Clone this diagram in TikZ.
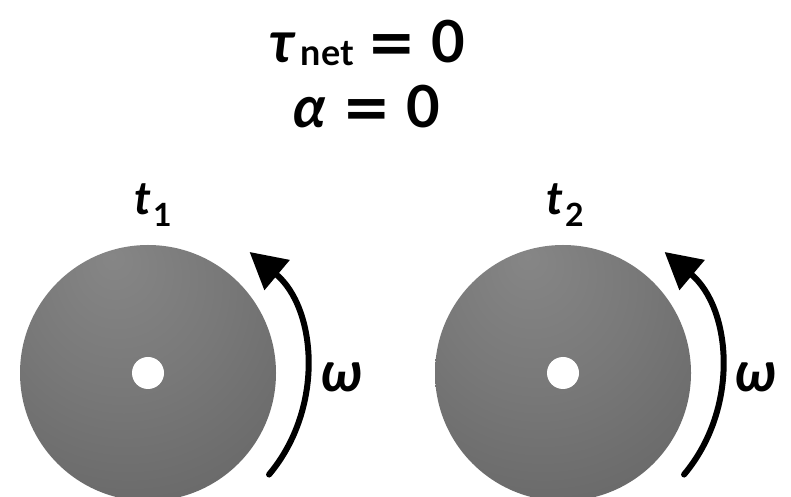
\documentclass[tikz,border=0pt]{standalone}
\usepackage{fontspec}
\setmainfont{Lato}
\newfontfamily\eqfont{DejaVu Sans}
\usetikzlibrary{arrows.meta}
\definecolor{diskhi}{RGB}{134,134,134}
\definecolor{disklo}{RGB}{88,88,88}
\pgfdeclareradialshading{diskshade}{\pgfpoint{-7bp}{23bp}}{color(0bp)=(diskhi); color(20bp)=(diskhi!70!disklo); color(60bp)=(disklo); color(72bp)=(disklo)}
\newcommand{\eqs}{{\eqfont\bfseries =}}
\tikzset{
  disk/.style={circle, minimum size=256pt, inner sep=0pt, shading=diskshade},
  hole/.style={circle, fill=white, minimum size=32pt, inner sep=0pt},
  rotarrow/.style={line width=6pt, line cap=round, -{Triangle[length=36pt,width=38pt]}},
  bigtxt/.style={font=\bfseries\fontsize{58}{60}\selectfont, inner sep=0pt, anchor=base},
  ttxt/.style={font=\bfseries\fontsize{46}{50}\selectfont, inner sep=0pt, anchor=base},
  wtxt/.style={font=\bfseries\itshape\fontsize{56}{58}\selectfont, inner sep=0pt, anchor=base}
}
\begin{document}
\begin{tikzpicture}[x=1pt,y=1pt]
\useasboundingbox (0,0) rectangle (791,497);
% title
\node[bigtxt] (tau) at (367,434) {\itshape τ\hspace{6pt}\upshape\raisebox{-3pt}{\fontsize{36}{38}\selectfont net}\hspace{14pt}\eqs\hspace{15pt}0};
\node[bigtxt] (alpha) at (367,369) {\itshape α\upshape\hspace{16pt}\eqs\hspace{16pt}0};
% left disk
\node[disk] (d1) at (148,124) {};
\node[hole] (h1) at (d1.center) {};
\node[ttxt] (t1) at (153,282) {\itshape t\upshape\hspace{2pt}\raisebox{-12pt}{\fontsize{32}{34}\selectfont 1}};
\draw[rotarrow] ([shift={(-40:158)}]d1.center) arc[start angle=-40, end angle=50, radius=158];
\node[wtxt] (w1) at (342,105) {ω};
% right disk
\node[disk] (d2) at (563,124) {};
\node[hole] (h2) at (d2.center) {};
\node[ttxt] (t2) at (565,282) {\itshape t\upshape\hspace{2pt}\raisebox{-12pt}{\fontsize{32}{34}\selectfont 2}};
\draw[rotarrow] ([shift={(-40:158)}]d2.center) arc[start angle=-40, end angle=50, radius=158];
\node[wtxt] (w2) at (756,105) {ω};
\end{tikzpicture}
\end{document}
